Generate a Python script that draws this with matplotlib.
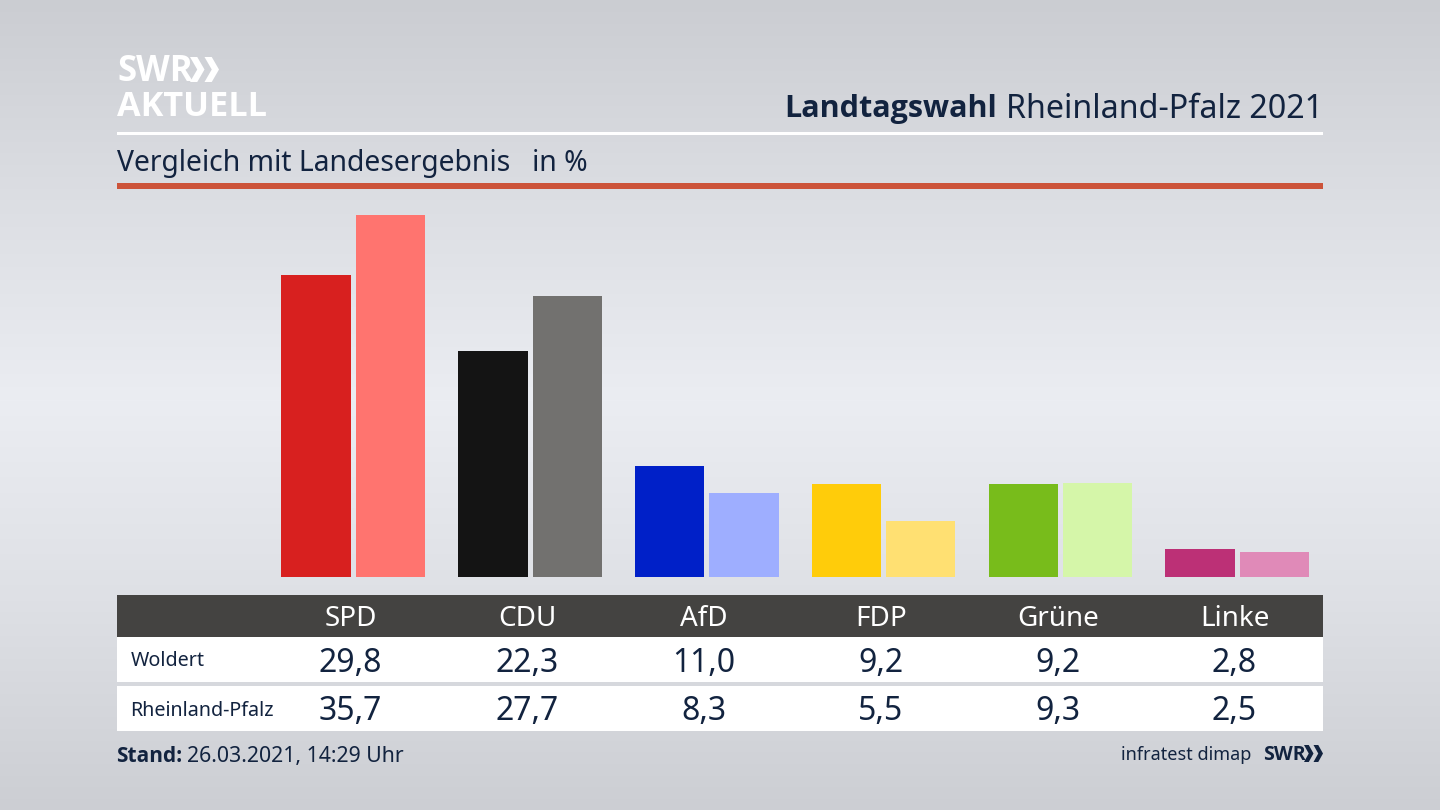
import numpy as np
import matplotlib
matplotlib.use("Agg")
import matplotlib.pyplot as plt
from matplotlib.patches import Rectangle, Polygon

parties = ["SPD", "CDU", "AfD", "FDP", "Grüne", "Linke"]
woldert = [29.8, 22.3, 11.0, 9.2, 9.2, 2.8]
land = [35.7, 27.7, 8.3, 5.5, 9.3, 2.5]
colors_w = ["#d8201f", "#141414", "#0020c8", "#ffcc0a", "#78bc1b", "#bc3076"]
colors_l = ["#ff746f", "#72716f", "#9eaeff", "#ffe072", "#d5f6a9", "#e08ab8"]
row_names = ["Woldert", "Rheinland-Pfalz"]

plt.rcParams['font.family'] = ['Noto Sans', 'DejaVu Sans']
INK = "#12233f"
W, H = 1440, 810
fig = plt.figure(figsize=(14.4, 8.1), dpi=100)

# background
bg = fig.add_axes([0, 0, 1, 1], zorder=0)
bg.axis("off")
stops_y = [0, 200, 400, 600, 810]
stops_v = [203, 220, 235, 222, 204]
col = np.interp(np.arange(H), stops_y, stops_v)
img = np.stack([col, col + 2, col + 7], axis=1)[:, None, :] / 255
bg.imshow(np.clip(img, 0, 1), aspect="auto", extent=[0, W, H, 0])

# overlay in pixel coordinates
ov = fig.add_axes([0, 0, 1, 1], zorder=1)
ov.set_xlim(0, W); ov.set_ylim(H, 0); ov.axis("off"); ov.patch.set_alpha(0)

def rect(x0, y0, x1, y1, c):
    ov.add_patch(Rectangle((x0, y0), x1 - x0, y1 - y0, fc=c, ec="none"))

def chevrons(x0, y0, x1, y1, c):
    """Logo mark: two interlocking chevrons inside the given box."""
    w = (x1 - x0) / 2
    ym = (y0 + y1) / 2
    for sx in (x0, x0 + w):
        ov.add_patch(Polygon([(sx, y0), (sx + w * 0.5, y0), (sx + w, ym),
                              (sx + w * 0.5, y1), (sx, y1), (sx + w * 0.5, ym)],
                             closed=True, fc=c, ec="none"))

rect(117, 132, 1323, 135, "white")
rect(117, 183, 1323, 189, "#cc533a")
rect(117, 595, 1323, 637, "#444341")
rect(117, 637, 1323, 682, "white")
rect(117, 686, 1323, 731, "white")

# logo
ov.text(117, 72, "SWR", color="white", fontsize=25, fontweight="bold", va="center", ha="left", family="Open Sans")
chevrons(190, 57, 219, 82, "white")
ov.text(117, 106.5, "AKTUELL", color="white", fontsize=24.7, fontweight="bold", va="center", ha="left", family="Open Sans")

# title
ov.text(1006, 106, "Rheinland-Pfalz 2021", color=INK, fontsize=23.2, va="center_baseline", ha="left")
ov.text(997, 106, "Landtagswahl", color=INK, fontsize=22, fontweight="bold", va="center_baseline", ha="right", family="Open Sans")

ov.text(117, 160, "Vergleich mit Landesergebnis", color=INK, fontsize=20.4, va="center_baseline", ha="left")
ov.text(532, 160, "in %", color=INK, fontsize=20.4, va="center_baseline", ha="left")

# bars
px_per_unit = 10.13
y_top = 190
ax = fig.add_axes([117 / W, (H - 577) / H, (1323 - 117) / W, (577 - y_top) / H], zorder=2)
ax.patch.set_alpha(0)
ax.axis("off")
step = 176.8
ax.set_xlim((117 - 353.3) / step, (1323 - 353.3) / step)
ax.set_ylim(0, (577 - y_top) / px_per_unit)
x = np.arange(len(parties))
bw = 69.2 / step
off = 37.2 / step
ax.bar(x - off, woldert, bw, color=colors_w)
ax.bar(x + off, land, bw, color=colors_l)

# table
fmt = lambda v: f"{v:.1f}".replace(".", ",")
for i, p in enumerate(parties):
    cx = 350.5 + step * i
    ov.text(cx, 615.5, p, color="white", fontsize=20, ha="center", va="center_baseline")
    ov.text(cx, 659, fmt(woldert[i]), color=INK, fontsize=23, ha="center", va="center_baseline")
    ov.text(cx, 708, fmt(land[i]), color=INK, fontsize=23, ha="center", va="center_baseline")
ov.text(130.5, 659, row_names[0], color=INK, fontsize=14.2, va="center_baseline", ha="left")
ov.text(130.5, 708, row_names[1], color=INK, fontsize=14.2, va="center_baseline", ha="left")

# footer
ov.text(116.5, 754, "Stand:", color=INK, fontsize=15, fontweight="bold", va="center_baseline", ha="left", family="Open Sans")
ov.text(187, 754, "26.03.2021, 14:29 Uhr", color=INK, fontsize=15.3, va="center_baseline", ha="left")
ov.text(1251, 753, "infratest dimap", color=INK, fontsize=13, va="center_baseline", ha="right")
ov.text(1263, 753, "SWR", color=INK, fontsize=14, fontweight="bold", va="center_baseline", ha="left", family="Open Sans")
chevrons(1304, 745, 1323, 762, INK)

fig.savefig("out.png", dpi=100)
